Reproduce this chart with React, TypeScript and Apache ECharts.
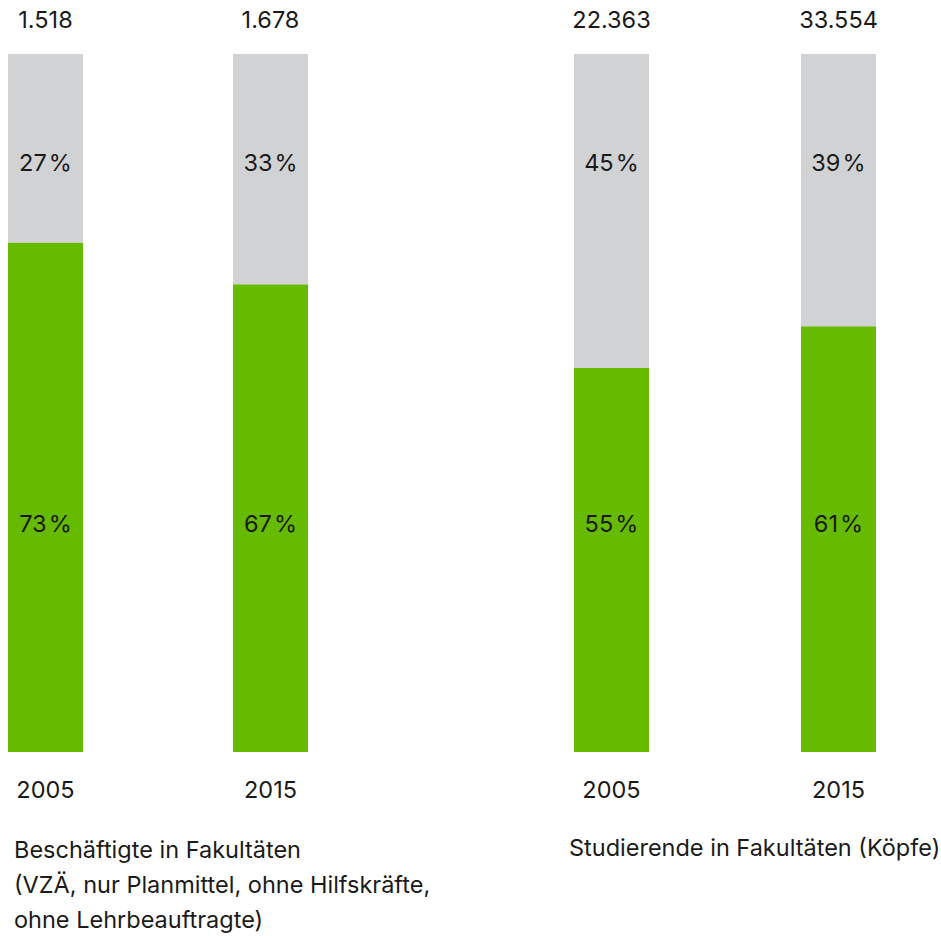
import React, { useEffect, useRef } from "react";
import * as echarts from "echarts";

const years = ["2005", "2015"];
const leftTotals = ["1.518", "1.678"];
const rightTotals = ["22.363", "33.554"];
const leftGreen = [73, 67];
const leftGray = [27, 33];
const rightGreen = [55, 61];
const rightGray = [45, 39];
const leftCaption = [
  "Beschäftigte in Fakultäten",
  "(VZÄ, nur Planmittel, ohne Hilfskräfte,",
  "ohne Lehrbeauftragte)",
];
const rightCaption = ["Studierende in Fakultäten (Köpfe)"];

const GREEN = "#66ba00";
const GRAY = "#d1d2d4";
const TEXT = "#1a1a1a";
const FONT = "Inter";
const FS = 23.5;

export default function App() {
  const ref = useRef<HTMLDivElement>(null);
  useEffect(() => {
    if (!ref.current) return;
    const chart = echarts.init(ref.current, undefined, { renderer: "svg" });
    const pctLabel = (isGray: boolean) => ({
      show: true,
      position: isGray ? "insideTop" : "insideBottom",
      offset: isGray ? [0, 91] : [0, -211.5],
      formatter: (p: any) => `${p.value}\u200A%`,
      color: TEXT,
      fontSize: FS,
      fontFamily: FONT,
    });
    const catAxis = (gridIndex: number, data: string[], top: boolean) => ({
      type: "category",
      gridIndex,
      data,
      position: top ? "top" : "bottom",
      boundaryGap: false,
      axisLine: { show: false },
      axisTick: { show: false },
      splitLine: { show: false },
      axisLabel: {
        color: TEXT,
        fontSize: FS,
        fontFamily: FONT,
        margin: top ? 23 : 25,
        interval: 0,
      },
    });
    const bar = (xi: number, yi: number, stack: string, data: number[], color: string, isGray: boolean) => ({
      type: "bar",
      xAxisIndex: xi,
      yAxisIndex: yi,
      stack,
      data,
      barWidth: 75,
      clip: false,
      itemStyle: { color },
      label: pctLabel(isGray),
    });
    chart.setOption({
      animation: false,
      grid: [
        { left: 45.5, right: 670.5, top: 54, bottom: 184 },
        { left: 611.5, right: 102.5, top: 54, bottom: 184 },
      ],
      xAxis: [
        catAxis(0, years, false),
        catAxis(0, leftTotals, true),
        catAxis(1, years, false),
        catAxis(1, rightTotals, true),
      ],
      yAxis: [
        { type: "value", gridIndex: 0, min: 0, max: 100, show: false },
        { type: "value", gridIndex: 1, min: 0, max: 100, show: false },
      ],
      series: [
        bar(0, 0, "l", leftGreen, GREEN, false),
        bar(0, 0, "l", leftGray, GRAY, true),
        bar(2, 1, "r", rightGreen, GREEN, false),
        bar(2, 1, "r", rightGray, GRAY, true),
      ],
      graphic: [
        {
          type: "text",
          left: 14,
          top: 831.5,
          style: {
            text: leftCaption.join("\n"),
            fontSize: FS,
            lineHeight: 35,
            fontFamily: FONT,
            fill: TEXT,
          },
        },
        {
          type: "text",
          left: 569,
          top: 829.5,
          style: {
            text: rightCaption.join("\n"),
            fontSize: FS,
            lineHeight: 35,
            fontFamily: FONT,
            fill: TEXT,
          },
        },
      ],
    });
    return () => chart.dispose();
  }, []);
  return (
    <div
      ref={ref}
      style={{ position: "fixed", left: 0, top: 0, width: 941, height: 936, background: "#fff" }}
    />
  );
}
